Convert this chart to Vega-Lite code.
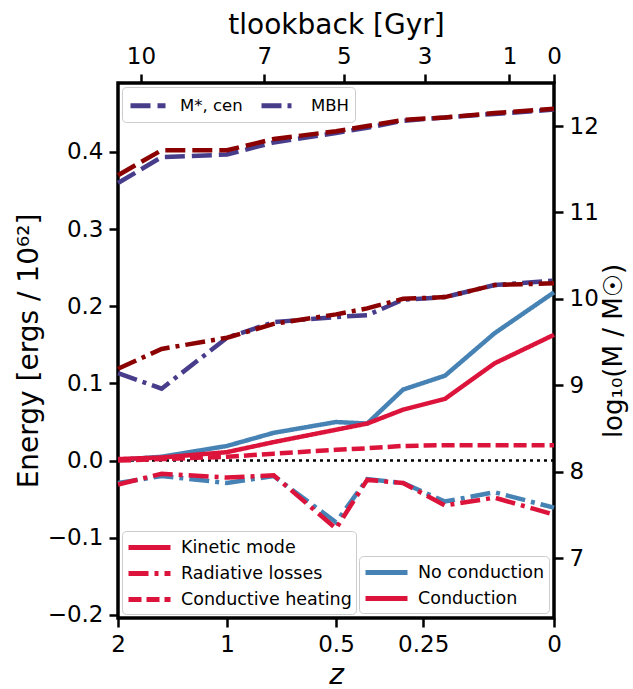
{
  "$schema": "https://vega.github.io/schema/vega-lite/v6.json",
  "width": 436,
  "height": 535,
  "autosize": {"type": "none"},
  "padding": {"left": 118, "top": 83, "right": 79, "bottom": 71},
  "background": "white",
  "config": {
    "font": "DejaVu Sans",
    "view": {"stroke": "black", "strokeWidth": 3.5},
    "axis": {"domain": false, "grid": false, "tickColor": "black", "tickWidth": 2.5, "tickSize": 9, "labelFont": "DejaVu Sans", "labelFontSize": 23, "labelColor": "black", "titleFont": "DejaVu Sans", "titleFontSize": 28, "titleFontWeight": "normal", "titleColor": "black", "labelPadding": 6, "labelFlush": false, "labelOverlap": false},
    "legend": {"labelFont": "DejaVu Sans", "labelFontSize": 17.5, "labelColor": "black", "labelLimit": 400, "fillColor": "white", "strokeColor": "#cccccc", "cornerRadius": 4, "padding": 4, "symbolStrokeWidth": 5, "symbolType": "M-1,0H3.2", "symbolSize": 400, "labelOffset": 30, "rowPadding": 3}
  },
  "datasets": {
    "energy": [
      {"a": 0.33333, "E": 0.001, "run": "No conduction", "q": "Kinetic mode"},
      {"a": 0.4, "E": 0.005, "run": "No conduction", "q": "Kinetic mode"},
      {"a": 0.5, "E": 0.019, "run": "No conduction", "q": "Kinetic mode"},
      {"a": 0.5714, "E": 0.036, "run": "No conduction", "q": "Kinetic mode"},
      {"a": 0.6667, "E": 0.050, "run": "No conduction", "q": "Kinetic mode"},
      {"a": 0.7143, "E": 0.048, "run": "No conduction", "q": "Kinetic mode"},
      {"a": 0.7692, "E": 0.092, "run": "No conduction", "q": "Kinetic mode"},
      {"a": 0.8333, "E": 0.110, "run": "No conduction", "q": "Kinetic mode"},
      {"a": 0.9091, "E": 0.165, "run": "No conduction", "q": "Kinetic mode"},
      {"a": 1.0, "E": 0.218, "run": "No conduction", "q": "Kinetic mode"},
      {"a": 0.33333, "E": -0.029, "run": "No conduction", "q": "Radiative losses"},
      {"a": 0.4, "E": -0.020, "run": "No conduction", "q": "Radiative losses"},
      {"a": 0.5, "E": -0.029, "run": "No conduction", "q": "Radiative losses"},
      {"a": 0.5714, "E": -0.020, "run": "No conduction", "q": "Radiative losses"},
      {"a": 0.6667, "E": -0.080, "run": "No conduction", "q": "Radiative losses"},
      {"a": 0.7143, "E": -0.024, "run": "No conduction", "q": "Radiative losses"},
      {"a": 0.7692, "E": -0.029, "run": "No conduction", "q": "Radiative losses"},
      {"a": 0.8333, "E": -0.053, "run": "No conduction", "q": "Radiative losses"},
      {"a": 0.9091, "E": -0.041, "run": "No conduction", "q": "Radiative losses"},
      {"a": 1.0, "E": -0.061, "run": "No conduction", "q": "Radiative losses"},
      {"a": 0.33333, "E": 0.002, "run": "Conduction", "q": "Kinetic mode"},
      {"a": 0.4, "E": 0.004, "run": "Conduction", "q": "Kinetic mode"},
      {"a": 0.5, "E": 0.011, "run": "Conduction", "q": "Kinetic mode"},
      {"a": 0.5714, "E": 0.024, "run": "Conduction", "q": "Kinetic mode"},
      {"a": 0.6667, "E": 0.040, "run": "Conduction", "q": "Kinetic mode"},
      {"a": 0.7143, "E": 0.048, "run": "Conduction", "q": "Kinetic mode"},
      {"a": 0.7692, "E": 0.066, "run": "Conduction", "q": "Kinetic mode"},
      {"a": 0.8333, "E": 0.080, "run": "Conduction", "q": "Kinetic mode"},
      {"a": 0.9091, "E": 0.126, "run": "Conduction", "q": "Kinetic mode"},
      {"a": 1.0, "E": 0.163, "run": "Conduction", "q": "Kinetic mode"},
      {"a": 0.33333, "E": -0.031, "run": "Conduction", "q": "Radiative losses"},
      {"a": 0.4, "E": -0.017, "run": "Conduction", "q": "Radiative losses"},
      {"a": 0.5, "E": -0.022, "run": "Conduction", "q": "Radiative losses"},
      {"a": 0.5714, "E": -0.019, "run": "Conduction", "q": "Radiative losses"},
      {"a": 0.6667, "E": -0.088, "run": "Conduction", "q": "Radiative losses"},
      {"a": 0.7143, "E": -0.025, "run": "Conduction", "q": "Radiative losses"},
      {"a": 0.7692, "E": -0.029, "run": "Conduction", "q": "Radiative losses"},
      {"a": 0.8333, "E": -0.058, "run": "Conduction", "q": "Radiative losses"},
      {"a": 0.9091, "E": -0.048, "run": "Conduction", "q": "Radiative losses"},
      {"a": 1.0, "E": -0.070, "run": "Conduction", "q": "Radiative losses"},
      {"a": 0.33333, "E": 0.000, "run": "Conduction", "q": "Conductive heating"},
      {"a": 0.4, "E": 0.002, "run": "Conduction", "q": "Conductive heating"},
      {"a": 0.5, "E": 0.005, "run": "Conduction", "q": "Conductive heating"},
      {"a": 0.5714, "E": 0.009, "run": "Conduction", "q": "Conductive heating"},
      {"a": 0.6667, "E": 0.014, "run": "Conduction", "q": "Conductive heating"},
      {"a": 0.7143, "E": 0.016, "run": "Conduction", "q": "Conductive heating"},
      {"a": 0.7692, "E": 0.019, "run": "Conduction", "q": "Conductive heating"},
      {"a": 0.8333, "E": 0.020, "run": "Conduction", "q": "Conductive heating"},
      {"a": 0.9091, "E": 0.020, "run": "Conduction", "q": "Conductive heating"},
      {"a": 1.0, "E": 0.020, "run": "Conduction", "q": "Conductive heating"}
    ],
    "mass": [
      {"a": 0.33333, "logM": 11.34, "run": "No conduction", "q": "M*, cen"},
      {"a": 0.4, "logM": 11.64, "run": "No conduction", "q": "M*, cen"},
      {"a": 0.5, "logM": 11.67, "run": "No conduction", "q": "M*, cen"},
      {"a": 0.5714, "logM": 11.81, "run": "No conduction", "q": "M*, cen"},
      {"a": 0.6667, "logM": 11.92, "run": "No conduction", "q": "M*, cen"},
      {"a": 0.7143, "logM": 11.98, "run": "No conduction", "q": "M*, cen"},
      {"a": 0.7692, "logM": 12.06, "run": "No conduction", "q": "M*, cen"},
      {"a": 0.8333, "logM": 12.10, "run": "No conduction", "q": "M*, cen"},
      {"a": 0.9091, "logM": 12.14, "run": "No conduction", "q": "M*, cen"},
      {"a": 1.0, "logM": 12.19, "run": "No conduction", "q": "M*, cen"},
      {"a": 0.33333, "logM": 9.14, "run": "No conduction", "q": "MBH"},
      {"a": 0.4, "logM": 8.96, "run": "No conduction", "q": "MBH"},
      {"a": 0.5, "logM": 9.55, "run": "No conduction", "q": "MBH"},
      {"a": 0.5714, "logM": 9.73, "run": "No conduction", "q": "MBH"},
      {"a": 0.6667, "logM": 9.79, "run": "No conduction", "q": "MBH"},
      {"a": 0.7143, "logM": 9.81, "run": "No conduction", "q": "MBH"},
      {"a": 0.7692, "logM": 9.99, "run": "No conduction", "q": "MBH"},
      {"a": 0.8333, "logM": 10.02, "run": "No conduction", "q": "MBH"},
      {"a": 0.9091, "logM": 10.16, "run": "No conduction", "q": "MBH"},
      {"a": 1.0, "logM": 10.21, "run": "No conduction", "q": "MBH"},
      {"a": 0.33333, "logM": 11.43, "run": "Conduction", "q": "M*, cen"},
      {"a": 0.4, "logM": 11.72, "run": "Conduction", "q": "M*, cen"},
      {"a": 0.5, "logM": 11.72, "run": "Conduction", "q": "M*, cen"},
      {"a": 0.5714, "logM": 11.85, "run": "Conduction", "q": "M*, cen"},
      {"a": 0.6667, "logM": 11.94, "run": "Conduction", "q": "M*, cen"},
      {"a": 0.7143, "logM": 12.00, "run": "Conduction", "q": "M*, cen"},
      {"a": 0.7692, "logM": 12.07, "run": "Conduction", "q": "M*, cen"},
      {"a": 0.8333, "logM": 12.10, "run": "Conduction", "q": "M*, cen"},
      {"a": 0.9091, "logM": 12.15, "run": "Conduction", "q": "M*, cen"},
      {"a": 1.0, "logM": 12.20, "run": "Conduction", "q": "M*, cen"},
      {"a": 0.33333, "logM": 9.19, "run": "Conduction", "q": "MBH"},
      {"a": 0.4, "logM": 9.42, "run": "Conduction", "q": "MBH"},
      {"a": 0.5, "logM": 9.55, "run": "Conduction", "q": "MBH"},
      {"a": 0.5714, "logM": 9.71, "run": "Conduction", "q": "MBH"},
      {"a": 0.6667, "logM": 9.82, "run": "Conduction", "q": "MBH"},
      {"a": 0.7143, "logM": 9.89, "run": "Conduction", "q": "MBH"},
      {"a": 0.7692, "logM": 10.00, "run": "Conduction", "q": "MBH"},
      {"a": 0.8333, "logM": 10.02, "run": "Conduction", "q": "MBH"},
      {"a": 0.9091, "logM": 10.16, "run": "Conduction", "q": "MBH"},
      {"a": 1.0, "logM": 10.18, "run": "Conduction", "q": "MBH"}
    ]
  },
  "layer": [
    {
      "layer": [
        {
          "data": {"values": [{"E": 0}]},
          "mark": {"type": "rule", "color": "black", "strokeWidth": 2.5, "strokeDash": [3, 4]},
          "encoding": {
            "y": {"field": "E", "type": "quantitative"}
          }
        },
        {
          "data": {"name": "energy"},
          "transform": [{"filter": "datum.run == 'No conduction'"}],
          "mark": {"type": "line", "strokeWidth": 4.5},
          "encoding": {
            "x": {"field": "a", "type": "quantitative", "scale": {"domain": [0.33333, 1], "nice": false, "zero": false},
              "axis": {"orient": "bottom", "values": [0.33333, 0.5, 0.66667, 0.8, 1], "labelExpr": "datum.value < 0.4 ? '2' : datum.value < 0.6 ? '1' : datum.value < 0.7 ? '0.5' : datum.value < 0.9 ? '0.25' : '0'", "title": "z", "titleFontStyle": "italic", "titlePadding": 5}},
            "y": {"field": "E", "type": "quantitative", "scale": {"domain": [-0.2039, 0.4892], "nice": false, "zero": false},
              "axis": {"orient": "left", "values": [-0.2, -0.1, 0, 0.1, 0.2, 0.3, 0.4], "format": ".1f", "title": "Energy [ergs / 10⁶²]", "titlePadding": 4}},
            "color": {"field": "run", "type": "nominal", "scale": {"domain": ["No conduction", "Conduction"], "range": ["#4682B4", "#DC143C"]},
              "legend": {"title": null, "orient": "bottom-right", "offset": 5}},
            "strokeDash": {"field": "q", "type": "nominal", "scale": {"domain": ["Kinetic mode", "Radiative losses", "Conductive heating"], "range": [[1, 0], [20, 6, 4, 6], [13, 5]]},
              "legend": {"title": null, "orient": "bottom-left", "offset": 4, "symbolStrokeColor": "#DC143C"}}
          }
        },
        {
          "data": {"name": "energy"},
          "transform": [{"filter": "datum.run == 'Conduction'"}],
          "mark": {"type": "line", "strokeWidth": 4.5},
          "encoding": {
            "x": {"field": "a", "type": "quantitative"},
            "y": {"field": "E", "type": "quantitative"},
            "color": {"field": "run", "type": "nominal"},
            "strokeDash": {"field": "q", "type": "nominal"}
          }
        }
      ]
    },
    {
      "layer": [
        {
          "data": {"name": "mass"},
          "transform": [{"filter": "datum.run == 'No conduction'"}],
          "mark": {"type": "line", "strokeWidth": 4.5},
          "encoding": {
            "x": {"field": "a", "type": "quantitative", "scale": {"domain": [0.33333, 1], "nice": false, "zero": false},
              "axis": {"orient": "top", "values": [0.36841, 0.55717, 0.67849, 0.80219, 0.93193, 1], "labelExpr": "datum.value < 0.4 ? '10' : datum.value < 0.6 ? '7' : datum.value < 0.7 ? '5' : datum.value < 0.85 ? '3' : datum.value < 0.96 ? '1' : '0'", "title": "tlookback [Gyr]", "titlePadding": 6}},
            "y": {"field": "logM", "type": "quantitative", "scale": {"domain": [6.306, 12.498], "nice": false, "zero": false},
              "axis": {"orient": "right", "values": [7, 8, 9, 10, 11, 12], "format": "d", "title": "log₁₀(M / M☉)", "titleFontSize": 26, "titleAngle": 270, "titleBaseline": "top", "titlePadding": 2}},
            "color": {"field": "run", "type": "nominal", "scale": {"domain": ["No conduction", "Conduction"], "range": ["#483D8B", "#8B0000"]}, "legend": null},
            "strokeDash": {"field": "q", "type": "nominal", "scale": {"domain": ["M*, cen", "MBH"], "range": [[20, 7], [20, 6, 4, 6]]},
              "legend": {"title": null, "orient": "top-left", "offset": 4, "padding": 6, "direction": "horizontal", "columns": 2, "columnPadding": 8, "labelFontSize": 16.5, "symbolStrokeColor": "#483D8B",
                "symbolType": "M-1,0H2.5", "symbolSize": 400, "labelOffset": 27}}
          }
        },
        {
          "data": {"name": "mass"},
          "transform": [{"filter": "datum.run == 'Conduction'"}],
          "mark": {"type": "line", "strokeWidth": 4.5},
          "encoding": {
            "x": {"field": "a", "type": "quantitative"},
            "y": {"field": "logM", "type": "quantitative"},
            "color": {"field": "run", "type": "nominal"},
            "strokeDash": {"field": "q", "type": "nominal"}
          }
        }
      ]
    }
  ],
  "resolve": {"scale": {"x": "independent", "y": "independent", "color": "independent", "strokeDash": "independent"}}
}
